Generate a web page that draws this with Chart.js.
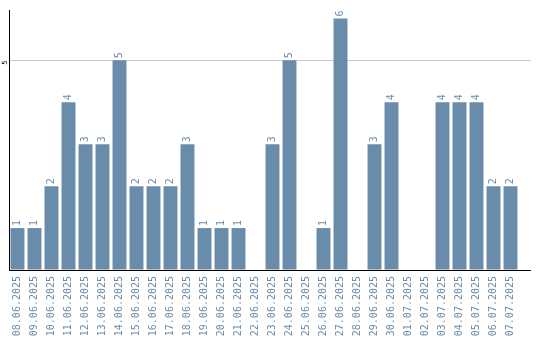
<!DOCTYPE html>
<html>
<head>
<meta charset="utf-8">
<script src="https://cdn.jsdelivr.net/npm/chart.js@4/dist/chart.umd.min.js"></script>
<style>
    body { margin: 0; background: #fff; }
    #wrap { width: 540px; height: 340px; }
</style>
</head>
<body>
<div id="wrap"><canvas id="dayChart" width="540" height="340"></canvas></div>
<script>
// dates and counts per day
let days = ["08.06.2025", "09.06.2025", "10.06.2025", "11.06.2025", "12.06.2025", "13.06.2025",
    "14.06.2025", "15.06.2025", "16.06.2025", "17.06.2025", "18.06.2025", "19.06.2025",
    "20.06.2025", "21.06.2025", "22.06.2025", "23.06.2025", "24.06.2025", "25.06.2025",
    "26.06.2025", "27.06.2025", "28.06.2025", "29.06.2025", "30.06.2025", "01.07.2025",
    "02.07.2025", "03.07.2025", "04.07.2025", "05.07.2025", "06.07.2025", "07.07.2025"];
let counts = [1, 1, 2, 4, 3, 3, 5, 2, 2, 2, 3, 1, 1, 1, 0, 3, 5, 0, 1, 6, 0, 3, 4, 0, 0, 4, 4, 4, 2, 2];
let yTicks = [5];

let barColor = "rgb(106,140,171)";
let labelFont = "10px 'DejaVu Sans Mono'";

// numbers written above the bars, turned on their side
let valueLabels = {
    id: "valueLabels",
    afterDatasetsDraw(chart) {
        let ctx = chart.ctx;
        let meta = chart.getDatasetMeta(0);
        ctx.save();
        ctx.fillStyle = barColor;
        ctx.font = labelFont;
        ctx.textAlign = "left";
        ctx.textBaseline = "middle";
        meta.data.forEach((bar, i) => {
            if (!counts[i]) return;
            ctx.save();
            ctx.translate(bar.x, bar.y - 2);
            ctx.rotate(-Math.PI / 2);
            ctx.fillText(String(counts[i]), 0, 0);
            ctx.restore();
        });
        ctx.restore();
    }
};

// baseline and grid line run a little past the last bar
let lineTail = {
    id: "lineTail",
    afterDraw(chart) {
        let ctx = chart.ctx;
        let area = chart.chartArea;
        let y = chart.scales.y;
        ctx.save();
        ctx.lineWidth = 1;
        ctx.strokeStyle = "#cccccc";
        yTicks.forEach(t => {
            let py = Math.round(y.getPixelForValue(t)) + 0.5;
            ctx.beginPath();
            ctx.moveTo(area.right, py);
            ctx.lineTo(area.right + 12, py);
            ctx.stroke();
        });
        ctx.strokeStyle = "#000";
        ctx.beginPath();
        ctx.moveTo(area.right - 1, area.bottom + 0.5);
        ctx.lineTo(area.right + 12, area.bottom + 0.5);
        ctx.stroke();
        ctx.restore();
    }
};

let ctx = document.getElementById("dayChart").getContext("2d");
let dayChart = new Chart(ctx, {
    type: "bar",
    data: {
        labels: days,
        datasets: [{
            data: counts,
            backgroundColor: barColor,
            barPercentage: 0.82,
            categoryPercentage: 1
        }]
    },
    options: {
        responsive: false,
        animation: false,
        layout: { padding: { top: 10, right: 21, bottom: 0, left: 0 } },
        plugins: {
            legend: { display: false },
            tooltip: { enabled: false }
        },
        scales: {
            x: {
                grid: { display: false, drawTicks: false },
                border: { display: true, color: "#000", width: 1 },
                ticks: {
                    color: barColor,
                    font: { family: "DejaVu Sans Mono", size: 10 },
                    minRotation: 90,
                    maxRotation: 90,
                    padding: 6,
                    autoSkip: false
                },
                afterFit: s => { s.height = 70; }
            },
            y: {
                min: 0,
                max: 6.2,
                grid: {
                    drawTicks: false,
                    color: c => yTicks.includes(c.tick.value) ? "#cccccc" : "rgba(0,0,0,0)"
                },
                border: { display: true, color: "#000", width: 1 },
                ticks: {
                    stepSize: 5,
                    includeBounds: false,
                    color: "#000",
                    font: { family: "DejaVu Sans", size: 7 },
                    minRotation: 90,
                    maxRotation: 90,
                    padding: 4,
                    callback: v => yTicks.includes(v) ? String(v) : ""
                },
                afterFit: s => { s.width = 9; }
            }
        }
    },
    plugins: [valueLabels, lineTail]
});
</script>
</body>
</html>
